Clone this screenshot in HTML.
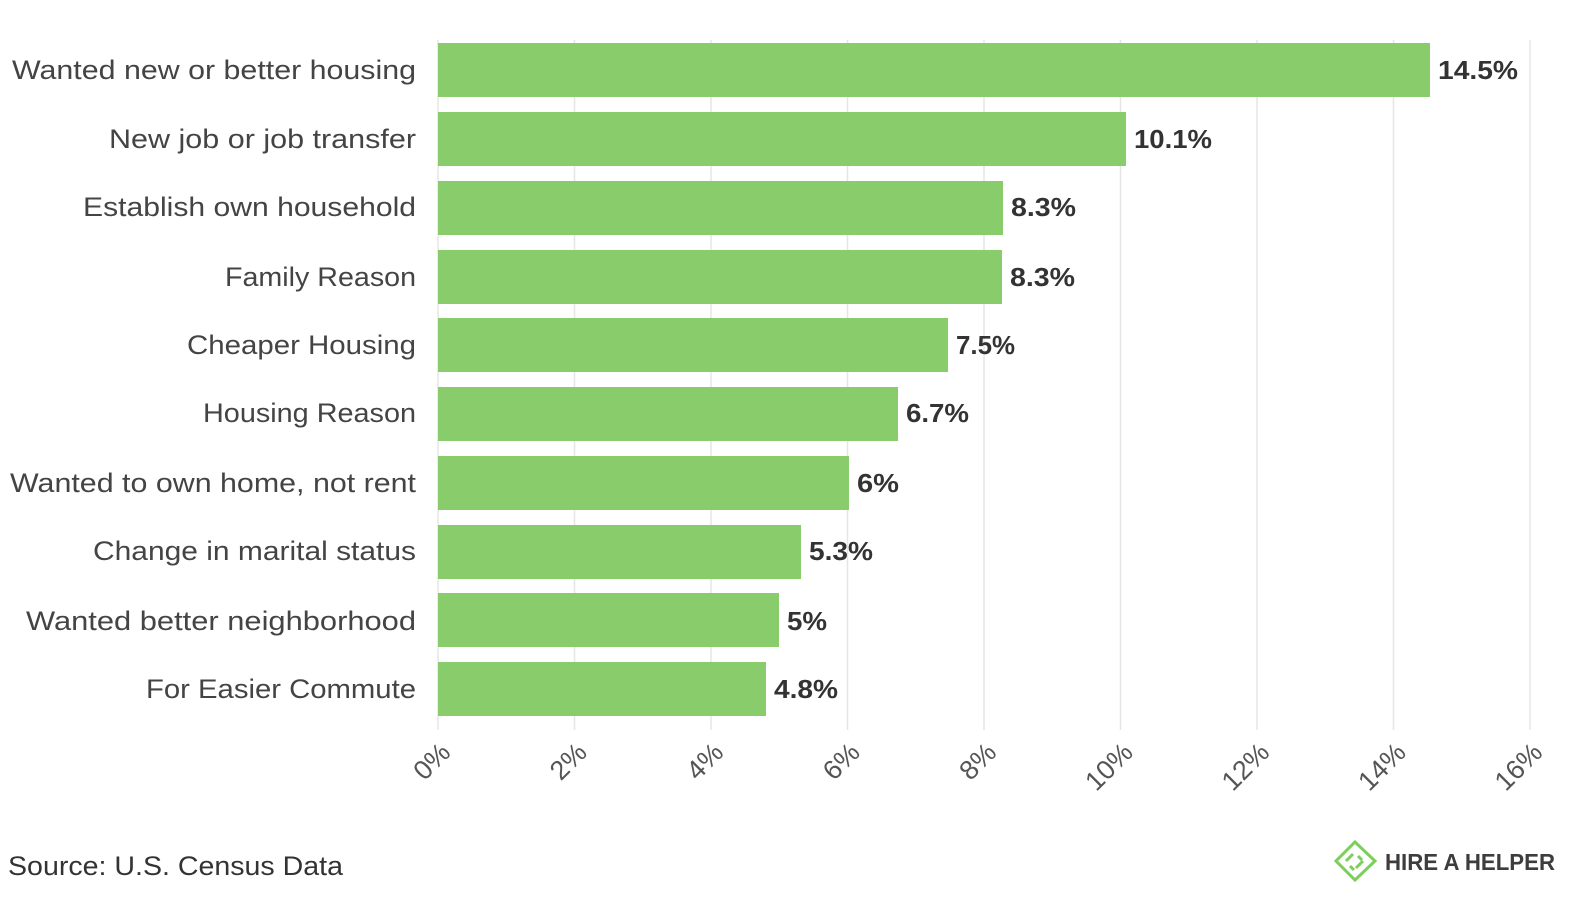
<!DOCTYPE html>
<html><head><meta charset="utf-8"><style>
html,body{margin:0;padding:0;background:#fff;}
svg{display:block;}
text{font-family:"Liberation Sans",sans-serif;}
</style></head><body>
<svg width="1569" height="906" viewBox="0 0 1569 906" xmlns="http://www.w3.org/2000/svg">
<g stroke="#e6e6e6" stroke-width="1.5">
<line x1="438" y1="40" x2="438" y2="730"/>
<line x1="574.5" y1="40" x2="574.5" y2="730"/>
<line x1="711" y1="40" x2="711" y2="730"/>
<line x1="847.5" y1="40" x2="847.5" y2="730"/>
<line x1="984" y1="40" x2="984" y2="730"/>
<line x1="1120.5" y1="40" x2="1120.5" y2="730"/>
<line x1="1257" y1="40" x2="1257" y2="730"/>
<line x1="1393.5" y1="40" x2="1393.5" y2="730"/>
<line x1="1530" y1="40" x2="1530" y2="730"/>
</g>
<g fill="#89cc6b">
<rect x="438" y="43" width="992" height="54"/>
<rect x="438" y="112" width="688" height="54"/>
<rect x="438" y="181" width="565" height="54"/>
<rect x="438" y="250" width="564" height="54"/>
<rect x="438" y="318" width="510" height="54"/>
<rect x="438" y="387" width="460" height="54"/>
<rect x="438" y="456" width="411" height="54"/>
<rect x="438" y="525" width="363" height="54"/>
<rect x="438" y="593" width="341" height="54"/>
<rect x="438" y="662" width="328" height="54"/>
</g>
<g fill="#444" font-size="27" text-anchor="end">
<text x="416" y="79" textLength="404" lengthAdjust="spacingAndGlyphs">Wanted new or better housing</text>
<text x="416" y="148" textLength="307" lengthAdjust="spacingAndGlyphs">New job or job transfer</text>
<text x="416" y="216" textLength="333" lengthAdjust="spacingAndGlyphs">Establish own household</text>
<text x="416" y="286" textLength="191" lengthAdjust="spacingAndGlyphs">Family Reason</text>
<text x="416" y="354" textLength="229" lengthAdjust="spacingAndGlyphs">Cheaper Housing</text>
<text x="416" y="422" textLength="213" lengthAdjust="spacingAndGlyphs">Housing Reason</text>
<text x="416" y="492" textLength="406" lengthAdjust="spacingAndGlyphs">Wanted to own home, not rent</text>
<text x="416" y="560" textLength="323" lengthAdjust="spacingAndGlyphs">Change in marital status</text>
<text x="416" y="630" textLength="390" lengthAdjust="spacingAndGlyphs">Wanted better neighborhood</text>
<text x="416" y="698" textLength="270" lengthAdjust="spacingAndGlyphs">For Easier Commute</text>
</g>
<g fill="#333" font-size="26" font-weight="bold">
<text x="1438" y="79" textLength="80" lengthAdjust="spacingAndGlyphs">14.5%</text>
<text x="1134" y="148" textLength="78" lengthAdjust="spacingAndGlyphs">10.1%</text>
<text x="1011" y="216" textLength="65" lengthAdjust="spacingAndGlyphs">8.3%</text>
<text x="1010" y="286" textLength="65" lengthAdjust="spacingAndGlyphs">8.3%</text>
<text x="956" y="354" textLength="59" lengthAdjust="spacingAndGlyphs">7.5%</text>
<text x="906" y="422" textLength="63" lengthAdjust="spacingAndGlyphs">6.7%</text>
<text x="857" y="492" textLength="42" lengthAdjust="spacingAndGlyphs">6%</text>
<text x="809" y="560" textLength="64" lengthAdjust="spacingAndGlyphs">5.3%</text>
<text x="787" y="630" textLength="40" lengthAdjust="spacingAndGlyphs">5%</text>
<text x="774" y="698" textLength="64" lengthAdjust="spacingAndGlyphs">4.8%</text>
</g>
<g fill="#555" font-size="27" text-anchor="end">
<text transform="translate(452,754) rotate(-45)">0%</text>
<text transform="translate(588.5,754) rotate(-45)">2%</text>
<text transform="translate(725,754) rotate(-45)">4%</text>
<text transform="translate(861.5,754) rotate(-45)">6%</text>
<text transform="translate(998,754) rotate(-45)">8%</text>
<text transform="translate(1134.5,754) rotate(-45)">10%</text>
<text transform="translate(1271,754) rotate(-45)">12%</text>
<text transform="translate(1407.5,754) rotate(-45)">14%</text>
<text transform="translate(1544,754) rotate(-45)">16%</text>
</g>
<text x="8" y="875" fill="#333" font-size="27" textLength="335" lengthAdjust="spacingAndGlyphs">Source: U.S. Census Data</text>
<g fill="none" stroke="#7ccf5a" stroke-width="3">
<polygon points="1355,842 1375,861 1355,880 1336,861"/>
<path d="M1346,861 l7,-7 M1356,868 l7,-7 M1350,866 l4,4 M1358,856 l4,4"/>
</g>
<text x="1385" y="870" fill="#3d3d3d" font-size="23" font-weight="bold" textLength="170" lengthAdjust="spacingAndGlyphs">HIRE A HELPER</text>
</svg>
</body></html>
